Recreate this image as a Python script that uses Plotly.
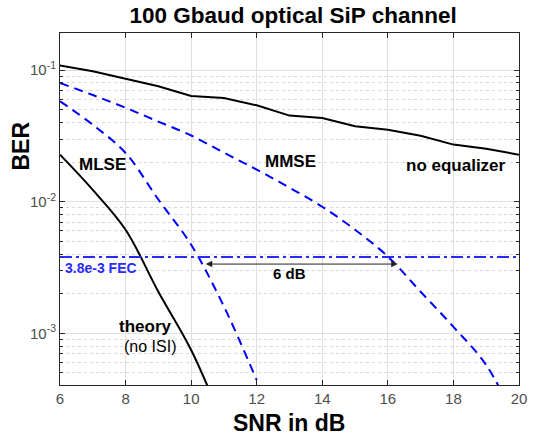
import numpy as np
import plotly.graph_objects as go

# SNR grid (dB) and BER curves
snr = [6, 7, 8, 9, 10, 11, 12, 13, 14, 15, 16, 17, 18, 19, 20]
ber_no_eq = [0.1086, 0.0983, 0.086, 0.0755, 0.0638, 0.0616, 0.0541, 0.0452,
             0.0434, 0.0375, 0.0353, 0.0318, 0.0272, 0.0253, 0.0228]
ber_mmse = [0.080, 0.0648, 0.0518, 0.0407, 0.0319, 0.0236, 0.01755, 0.0128,
            0.00916, 0.00613, 0.00383, 0.00207, 0.00112, 5.74e-4, 1.9e-4]

snr_mlse = [6, 7, 8, 9, 10, 11, 12]
ber_mlse = [0.0581, 0.0385, 0.0235, 0.0104, 0.00471, 0.0016, 4.4e-4]

snr_theory = [6, 7, 8, 9, 10, 11]
ber_theory = [0.0228, 0.0123, 0.00612, 0.00207, 7.46e-4, 2.0e-4]

fec_limit = 3.8e-3
gap_start, gap_end, gap_ber = 10.4, 16.3, 3.36e-3

x_ticks = [6, 8, 10, 12, 14, 16, 18, 20]
y_ticks = [1e-3, 1e-2, 1e-1]
y_tick_text = ["10<sup>-3</sup>", "10<sup>-2</sup>", "10<sup>-1</sup>"]

FONT = "Liberation Sans, Arial, sans-serif"
BLUE = "#0000ff"
FEC_BLUE = "#2a2aff"
AXIS = "#262626"

fig = go.Figure()

fig.add_trace(go.Scatter(x=snr, y=ber_no_eq, mode="lines",
                         line=dict(color="black", width=2), showlegend=False))
fig.add_trace(go.Scatter(x=snr, y=ber_mmse, mode="lines",
                         line=dict(color=BLUE, width=2, dash="9px,6px",
                                   shape="spline", smoothing=1), showlegend=False))
fig.add_trace(go.Scatter(x=snr_mlse, y=ber_mlse, mode="lines",
                         line=dict(color=BLUE, width=2, dash="9px,6px",
                                   shape="spline", smoothing=1), showlegend=False))
fig.add_trace(go.Scatter(x=snr_theory, y=ber_theory, mode="lines",
                         line=dict(color="black", width=2, shape="spline", smoothing=1),
                         showlegend=False))
# FEC threshold
fig.add_trace(go.Scatter(x=[snr[0], snr[-1]], y=[fec_limit, fec_limit], mode="lines",
                         line=dict(color=FEC_BLUE, width=2, dash="12px,4px,3px,4px"),
                         showlegend=False))

ann = []
def label(text, x, y, size=17, bold=True, color="black", xanchor="center"):
    t = f"<b>{text}</b>" if bold else text
    ann.append(dict(text=t, x=x, y=np.log10(y), xref="x", yref="y", showarrow=False,
                    xanchor=xanchor, yanchor="middle",
                    font=dict(family=FONT, size=size, color=color)))

label("MLSE", 7.3, 10 ** -1.718)
label("MMSE", 13.04, 10 ** -1.693)
label("no equalizer", 18.07, 10 ** -1.726, size=17)
label("theory", 8.6, 10 ** -2.95)
label("(no ISI)", 8.73, 10 ** -3.102, size=16, bold=False, color="#000")
label("3.8e-3 FEC", 6.1, 10 ** -2.505, size=14, color=FEC_BLUE, xanchor="left")
label("6 dB", 13.0, 10 ** -2.543, size=15)

# double-headed arrow marking the SNR gap at the FEC limit
ann.append(dict(x=gap_end, y=np.log10(gap_ber), ax=gap_start, ay=np.log10(gap_ber),
                xref="x", yref="y", axref="x", ayref="y", text="", showarrow=True,
                arrowhead=2, startarrowhead=2, arrowside="end+start",
                arrowsize=1.3, startarrowsize=1.3, arrowwidth=1, arrowcolor="#222"))

ann.append(dict(text="<b>BER</b>", x=-0.086, y=0.679, xref="paper", yref="paper",
                showarrow=False, textangle=-90, xanchor="center", yanchor="middle",
                font=dict(family=FONT, size=23, color="black")))
ann.append(dict(text="<b>SNR in dB</b>", x=0.498, y=-0.108, xref="paper", yref="paper",
                showarrow=False, xanchor="center", yanchor="middle",
                font=dict(family=FONT, size=23, color="black")))

fig.update_layout(
    width=533, height=440,
    margin=dict(l=60, r=6, t=33, b=55),
    paper_bgcolor="white", plot_bgcolor="white",
    title=dict(text="<b>100 Gbaud optical SiP channel</b>", x=0.55, xanchor="center",
               y=1 - 15.5 / 440, yanchor="middle", yref="container",
               font=dict(family=FONT, size=22.5, color="black")),
    annotations=ann,
    xaxis=dict(range=[6, 20], tickvals=x_ticks, ticks="inside", ticklen=5,
               showline=True, linecolor=AXIS, linewidth=1, mirror="allticks",
               tickcolor=AXIS, showgrid=True, gridcolor="#e0e0e0", gridwidth=1,
               zeroline=False, ticklabeloverflow="allow",
               tickfont=dict(family=FONT, size=15, color="#4d4d4d")),
    yaxis=dict(type="log", range=[-3.393, -0.717], tickvals=y_ticks, ticktext=y_tick_text,
               ticks="inside", ticklen=5, showline=True, linecolor=AXIS, linewidth=1,
               mirror="allticks", tickcolor=AXIS, showgrid=True,
               gridcolor="#e0e0e0", gridwidth=1, zeroline=False,
               tickfont=dict(family=FONT, size=15, color="#4d4d4d"),
               minor=dict(dtick="D1", ticks="inside", ticklen=3, tickcolor=AXIS,
                          showgrid=True, gridcolor="#d8d8d8", griddash="dot", gridwidth=1)),
)

fig.write_html("out.html")
